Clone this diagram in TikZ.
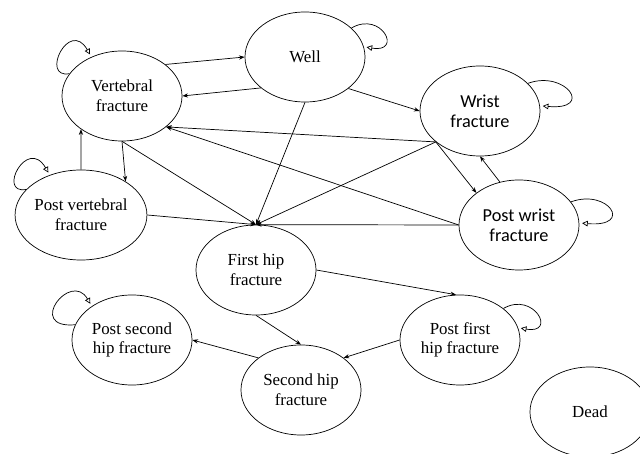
\documentclass[tikz,border=0pt]{standalone}
\usepackage{fontspec}
\setmainfont{Liberation Serif}
\newfontfamily\calib{Carlito}
\usetikzlibrary{arrows.meta, shapes.geometric}

\begin{document}
\begin{tikzpicture}[x=0.025cm, y=0.025cm,
    stage/.style={draw, ellipse, line width=0.5pt, minimum width=3cm, minimum height=2.25cm, inner sep=0pt, align=center, font=\fontsize{12}{14}\selectfont},
    sansstage/.style={stage, font=\calib\fontsize{13}{14}\selectfont},
    link/.style={-{Stealth[length=4pt, width=3pt]}, line width=0.5pt},
    selfloop/.style={-{Triangle[open, length=4pt, width=4pt]}, line width=0.5pt, shorten >=2pt}]
    \useasboundingbox (0,0) rectangle (640,454);

    \node[stage] (well) at (305,397) {Well};
    \node[stage] (vert) at (122,358) {Vertebral\\fracture};
    \node[sansstage] (wrist) at (480,343) {Wrist\\fracture};
    \node[stage] (postvert) at (81,239) {Post vertebral\\fracture};
    \node[sansstage] (postwrist) at (519,229) {Post wrist\\fracture};
    \node[stage] (hipone) at (256,184) {First hip\\fracture};
    \node[stage] (postsecond) at (132,114) {Post second\\hip fracture};
    \node[stage] (postfirst) at (460,114) {Post first\\hip fracture};
    \node[stage] (hiptwo) at (301,64) {Second hip\\fracture};
    \node[stage] (dead) at (590,42) {Dead};

    \draw[link] (vert.36) -- (well.west);
    \draw[link] (well.215) -- (vert.east);
    \draw[link] (well.-36) -- (wrist.west);
    \draw[link] (well.south) -- (hipone.north);
    \draw[link] (vert.south) -- (postvert.37);
    \draw[link] (postvert.north) -- (vert.219);
    \draw[link] (vert.south) -- (hipone.north);
    \draw[link] (postvert.east) -- (hipone.north);
    \draw[link] (wrist.215) -- (vert.-35);
    \draw[link] (postwrist.west) -- (vert.-35);
    \draw[link] (wrist.215) -- (hipone.north);
    \draw[link] (wrist.215) -- (postwrist.143);
    \draw[link] (postwrist.114) -- (wrist.south);
    \draw[link] (postwrist.west) -- (hipone.north);
    \draw[link] (hipone.east) -- (postfirst.95);
    \draw[link] (hipone.south) -- (hiptwo.north);
    \draw[link] (postfirst.west) -- (hiptwo.37);
    \draw[link] (hiptwo.143) -- (postsecond.east);

    \draw[selfloop] (vert.157) .. controls +(190:30) and +(120:45) .. (vert.128);
    \draw[selfloop] (postvert.155) .. controls +(190:30) and +(120:45) .. (postvert.128);
    \draw[selfloop] (postsecond.165) .. controls +(185:50) and +(120:42) .. (postsecond.140);
    \draw[selfloop] (well.32) .. controls +(30:35) and +(-10:40) .. (well.10);
    \draw[selfloop] (wrist.30) .. controls +(20:40) and +(-5:55) .. (wrist.5);
    \draw[selfloop] (postwrist.24) .. controls +(20:40) and +(-5:55) .. (postwrist.2);
    \draw[selfloop] (postfirst.36) .. controls +(30:35) and +(-10:40) .. (postfirst.12);
\end{tikzpicture}
\end{document}
